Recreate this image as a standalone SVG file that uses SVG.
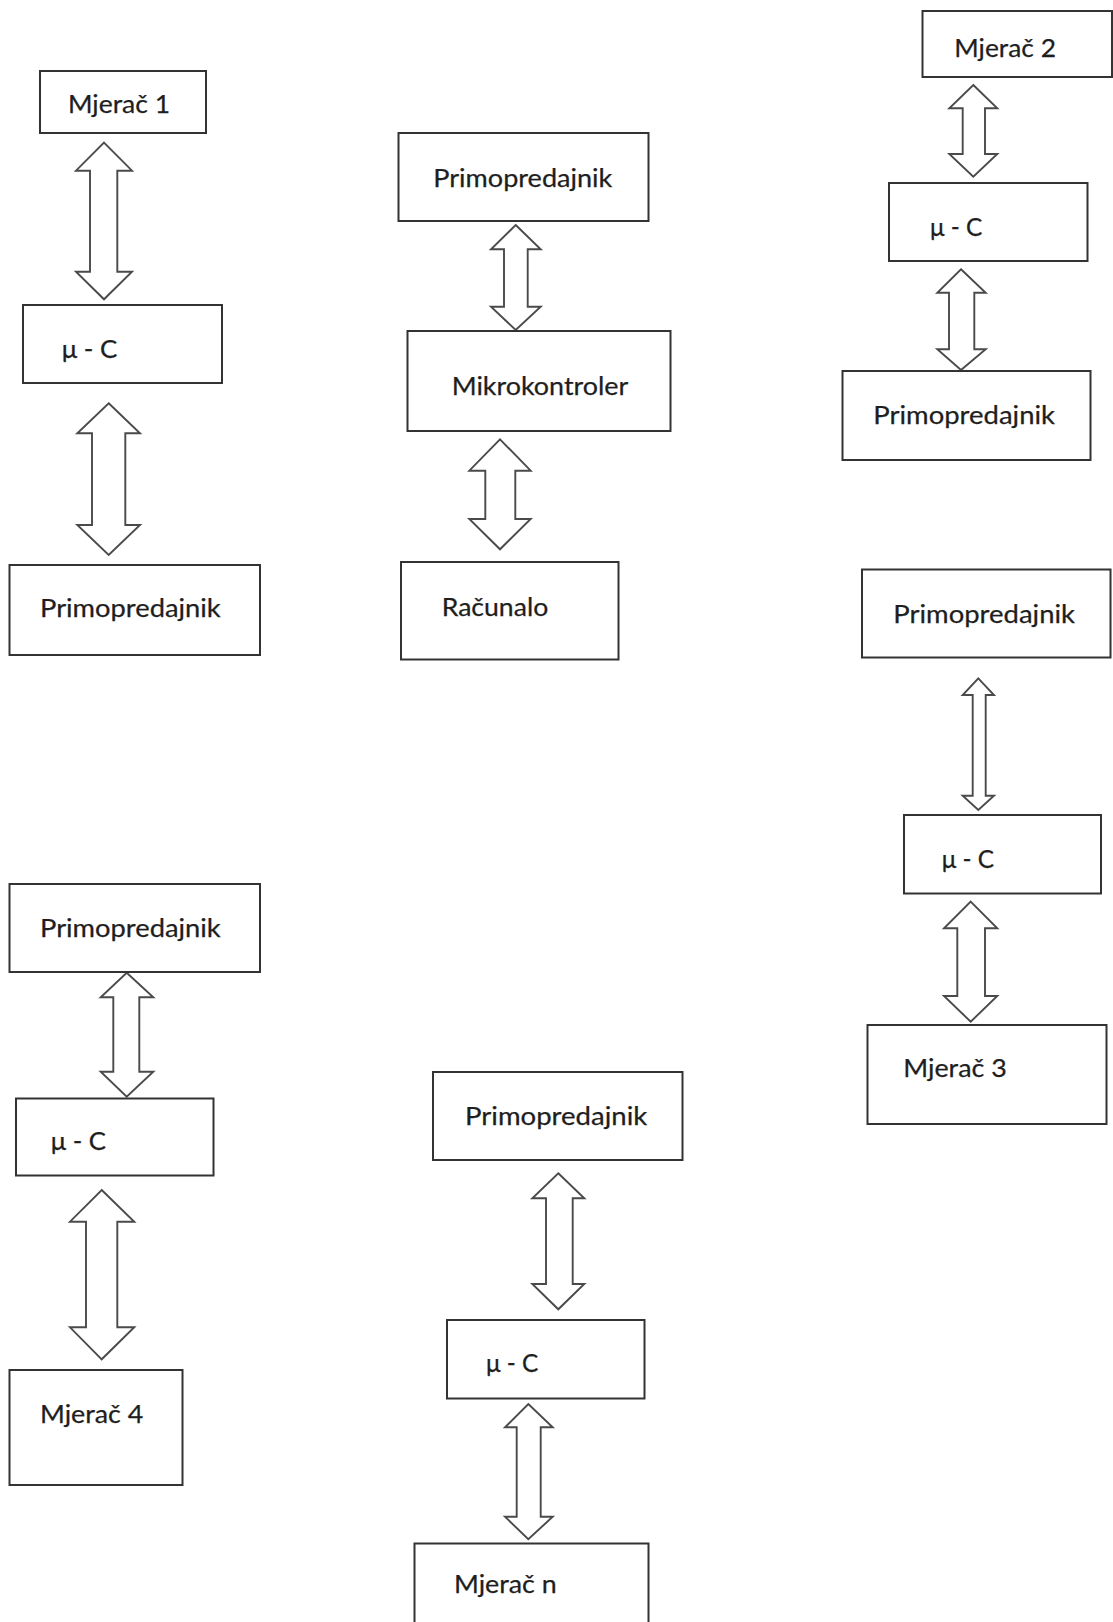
<svg xmlns="http://www.w3.org/2000/svg" width="1113" height="1622" viewBox="0 0 1113 1622">
<style>
.box{fill:#fff;stroke:#333;stroke-width:2}
.arr{fill:#fff;stroke:#4a4a4a;stroke-width:1.9;stroke-linejoin:miter}
.t{font-family:Lato,"Open Sans","Liberation Sans",sans-serif;font-size:24.5px;fill:#1e1e1e;stroke:#1e1e1e;stroke-width:0.25}
</style>
<rect width="1113" height="1622" fill="#fff"/>
<g id="connectors">
<polygon class="arr" points="104,142.7 132,170.7 117.3,170.7 117.3,271.7 132,271.7 104,299.3 76,271.7 90,271.7 90,170.7 76,170.7"/>
<polygon class="arr" points="108.7,403.3 140,433.3 125.3,433.3 125.3,525 140,525 108.7,555 77.3,525 92,525 92,433.3 77.3,433.3"/>
<polygon class="arr" points="515.7,225 540.7,249.3 527.7,249.3 527.7,306.7 540.7,306.7 515.7,330 491,306.7 504,306.7 504,249.3 491,249.3"/>
<polygon class="arr" points="500,439.3 530.7,470.7 515.3,470.7 515.3,519 530.7,519 500,549.3 469.3,519 485.3,519 485.3,470.7 469.3,470.7"/>
<polygon class="arr" points="973.3,85 997.3,108.3 985,108.3 985,154 997.3,154 973.3,176.7 949.3,154 962.7,154 962.7,108.3 949.3,108.3"/>
<polygon class="arr" points="961,269.3 985.7,292.7 974.3,292.7 974.3,349.3 985.7,349.3 961,370 937.3,349.3 949,349.3 949,292.7 937.3,292.7"/>
<polygon class="arr" points="978.3,678.3 994,695 985.7,695 985.7,795.7 994,795.7 978.3,810 962.7,795.7 972.7,795.7 972.7,695 962.7,695"/>
<polygon class="arr" points="970.7,901.7 997.3,928.3 985,928.3 985,996 997.3,996 970.7,1021.7 944,996 957.3,996 957.3,928.3 944,928.3"/>
<polygon class="arr" points="126.7,972.7 153.3,997.3 139.3,997.3 139.3,1071.7 153.3,1071.7 126.7,1096.7 100.7,1071.7 113.3,1071.7 113.3,997.3 100.7,997.3"/>
<polygon class="arr" points="101.7,1190 134.3,1221.7 117.3,1221.7 117.3,1327.3 134.3,1327.3 101.7,1359.3 70,1327.3 86,1327.3 86,1221.7 70,1221.7"/>
<polygon class="arr" points="558.3,1173.3 584.3,1198.3 572.7,1198.3 572.7,1284 584.3,1284 558.3,1309.3 532.3,1284 546,1284 546,1198.3 532.3,1198.3"/>
<polygon class="arr" points="528.3,1404 552.7,1427.3 540.7,1427.3 540.7,1516.7 552.7,1516.7 528.3,1539.3 505,1516.7 516.7,1516.7 516.7,1427.3 505,1427.3"/>
</g>
<g id="mjerac1"><rect class="box" x="40" y="71" width="166" height="62"/><text class="t" x="68" y="112.7" textLength="102" lengthAdjust="spacingAndGlyphs">Mjerač 1</text></g>
<g id="uc1"><rect class="box" x="23" y="305" width="199" height="78"/><text class="t" x="61.7" y="358" textLength="55.6" lengthAdjust="spacingAndGlyphs">μ - C</text></g>
<g id="primo1"><rect class="box" x="9.5" y="565" width="250.5" height="90"/><text class="t" x="40" y="617.3" textLength="180.7" lengthAdjust="spacingAndGlyphs">Primopredajnik</text></g>
<g id="primo_c"><rect class="box" x="398.5" y="133" width="250" height="88"/><text class="t" x="433.3" y="187.3" textLength="179" lengthAdjust="spacingAndGlyphs">Primopredajnik</text></g>
<g id="mikro"><rect class="box" x="407.5" y="331" width="263" height="100"/><text class="t" x="451.7" y="395" textLength="176.6" lengthAdjust="spacingAndGlyphs">Mikrokontroler</text></g>
<g id="racunalo"><rect class="box" x="401" y="562" width="217.5" height="97.5"/><text class="t" x="441.7" y="616" textLength="106.6" lengthAdjust="spacingAndGlyphs">Računalo</text></g>
<g id="mjerac2"><rect class="box" x="922.5" y="11" width="189.5" height="66"/><text class="t" x="954.3" y="57.3" textLength="101.7" lengthAdjust="spacingAndGlyphs">Mjerač 2</text></g>
<g id="uc2"><rect class="box" x="889" y="183" width="198.5" height="78"/><text class="t" x="930" y="236" textLength="52.3" lengthAdjust="spacingAndGlyphs">μ - C</text></g>
<g id="primo2"><rect class="box" x="842.5" y="371" width="248" height="89"/><text class="t" x="873.3" y="424" textLength="181.7" lengthAdjust="spacingAndGlyphs">Primopredajnik</text></g>
<g id="primo3"><rect class="box" x="862" y="569.5" width="248.5" height="88"/><text class="t" x="893.3" y="622.7" textLength="181.7" lengthAdjust="spacingAndGlyphs">Primopredajnik</text></g>
<g id="uc3"><rect class="box" x="904" y="815" width="197" height="78.5"/><text class="t" x="941.7" y="868.3" textLength="52.3" lengthAdjust="spacingAndGlyphs">μ - C</text></g>
<g id="mjerac3"><rect class="box" x="867.5" y="1025" width="239" height="99"/><text class="t" x="903.3" y="1076.7" textLength="103.4" lengthAdjust="spacingAndGlyphs">Mjerač 3</text></g>
<g id="primo4"><rect class="box" x="9.5" y="884" width="250.5" height="88"/><text class="t" x="40" y="937.3" textLength="180.7" lengthAdjust="spacingAndGlyphs">Primopredajnik</text></g>
<g id="uc4"><rect class="box" x="16" y="1098.5" width="197.5" height="77"/><text class="t" x="50.7" y="1150" textLength="55.3" lengthAdjust="spacingAndGlyphs">μ - C</text></g>
<g id="mjerac4"><rect class="box" x="9.5" y="1370" width="173" height="115"/><text class="t" x="40" y="1423.3" textLength="103.3" lengthAdjust="spacingAndGlyphs">Mjerač 4</text></g>
<g id="primo5"><rect class="box" x="433" y="1072" width="249.5" height="88"/><text class="t" x="465" y="1125" textLength="182.3" lengthAdjust="spacingAndGlyphs">Primopredajnik</text></g>
<g id="uc5"><rect class="box" x="447" y="1320" width="197.5" height="78.5"/><text class="t" x="486" y="1371.7" textLength="52.3" lengthAdjust="spacingAndGlyphs">μ - C</text></g>
<g id="mjeracn"><rect class="box" x="414.5" y="1543.5" width="234" height="90"/><text class="t" x="454" y="1593.3" textLength="102.7" lengthAdjust="spacingAndGlyphs">Mjerač n</text></g>
</svg>
